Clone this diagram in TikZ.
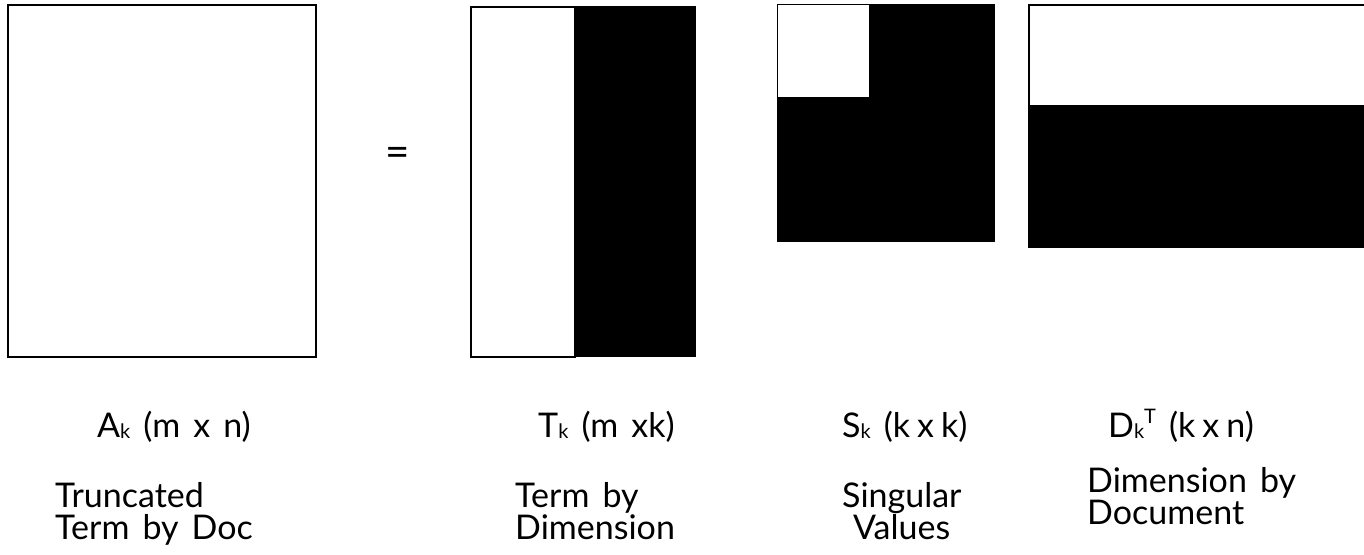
\documentclass[tikz,border=0pt]{standalone}
\usepackage{fontspec}
\setmainfont{Lato}[WordSpace=1.5]
\begin{document}
\begin{tikzpicture}[x=1pt,y=-1pt,
  lbl/.style={anchor=base west,inner sep=0pt,font=\fontsize{34}{40}\selectfont},
  frame/.style={draw=black,line width=2pt},
  thin/.style={draw=black,line width=1pt}]
\newcommand{\sbk}{\raisebox{-1.5pt}{\fontsize{20}{24}\selectfont k}}
\newcommand{\nsp}{\hspace{7pt}}
\useasboundingbox[fill=white] (0,0) rectangle (1364,554);
% A_k: full term-by-document matrix
\draw[frame,fill=white] (8,5) rectangle (316,357);
% equals sign
\node[inner sep=0pt,font=\fontsize{42}{46}\selectfont] (eq) at (398,157) {=};
% T_k: first k columns kept
\fill[black] (471,6) rectangle (696,357);
\draw[frame,fill=white] (471,7) rectangle (575,357);
% S_k: top-left k x k block kept
\fill[black] (777,4) rectangle (995,242);
\draw[thin,fill=white] (777,4) rectangle (869,97);
% D_k^T: first k rows kept
\fill[black] (1028,106) rectangle (1364,248);
\draw[frame,fill=white] (1029,5) rectangle (1370,106);
% labels
\node[lbl] (la) at (97,437) {A\sbk{} (m x n)};
\node[lbl] (la1) at (55,507) {Truncated};
\node[lbl] (la2) at (55,539) {Term by Doc};
\node[lbl] (lt) at (538,437) {T\sbk{} (m xk)};
\node[lbl] (lt1) at (515,507) {Term by};
\node[lbl] (lt2) at (515,539) {Dimension};
\node[lbl] (ls) at (842,437) {S\sbk{} (k\nsp x\nsp k)};
\node[lbl] (ls1) at (842,507) {Singular};
\node[lbl] (ls2) at (853,539) {Values};
\node[lbl] (ld) at (1108,437) {D\sbk\raisebox{14pt}{\fontsize{20}{24}\selectfont T} (k\nsp x\nsp n)};
\node[lbl] (ld1) at (1087,492) {Dimension by};
\node[lbl] (ld2) at (1087,524) {Document};
\end{tikzpicture}
\end{document}
